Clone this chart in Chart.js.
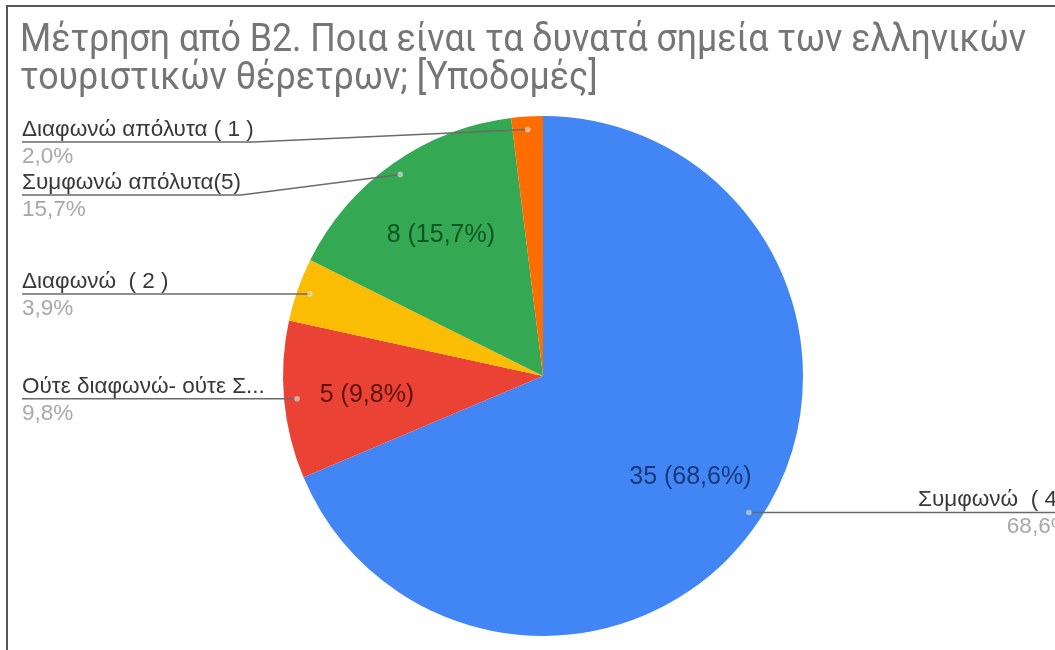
<!DOCTYPE html>
<html>
<head>
<meta charset="utf-8">
<script src="https://cdn.jsdelivr.net/npm/chart.js@4.4.0/dist/chart.umd.min.js"></script>
<style>
  html, body { margin: 0; padding: 0; background: #fff; overflow: hidden; }
  #wrap { position: relative; width: 1055px; height: 650px; }
</style>
</head>
<body>
<div id="wrap"><canvas id="c" width="1055" height="650"></canvas></div>
<script>
// Chart title (two lines)
const titleLines = [
  'Μέτρηση από Β2. Ποια είναι τα δυνατά σημεία των ελληνικών',
  'τουριστικών θέρετρων; [Υποδομές]'
];

// Answer categories, in drawing order (clockwise from 12 o'clock)
const categories = [
  'Συμφωνώ  ( 4 )',
  'Ούτε διαφωνώ- ούτε Σ...',
  'Διαφωνώ  ( 2 )',
  'Συμφωνώ απόλυτα(5)',
  'Διαφωνώ απόλυτα ( 1 )'
];

// Number of responses per category
const counts = [35, 5, 2, 8, 1];

// Slice fills and the darker tones used for the in-slice value text
const sliceColors = ['#4285f4', '#ea4335', '#fbbc04', '#34a853', '#ff6d01'];
const valueTextColors = ['#17397a', '#5e1210', '#6b4f00', '#0c5524', '#7a3300'];

const total = counts.reduce((a, b) => a + b, 0);
const pct = v => (v / total * 100).toFixed(1).replace('.', ',') + '%';

const LABEL_FONT = '22.5px "Liberation Sans", Arial, sans-serif';
const VALUE_FONT = '25px "Liberation Sans", Arial, sans-serif';
const TITLE_FONT = '38px Roboto, "Liberation Sans", sans-serif';
const TITLE_SQUEEZE = 0.94;

const decorations = {
  id: 'decorations',
  beforeDraw(chart) {
    const ctx = chart.ctx;
    ctx.save();
    ctx.fillStyle = '#ffffff';
    ctx.fillRect(0, 0, chart.width, chart.height);
    // frame edges
    ctx.strokeStyle = '#555555';
    ctx.lineWidth = 2;
    ctx.beginPath();
    ctx.moveTo(7, chart.height);
    ctx.lineTo(7, 6);
    ctx.lineTo(chart.width, 6);
    ctx.stroke();
    ctx.restore();
  },
  afterDatasetsDraw(chart) {
    const ctx = chart.ctx;
    const arcs = chart.getDatasetMeta(0).data;
    const items = arcs.map((arc, i) => {
      const p = arc.getProps(['x', 'y', 'startAngle', 'endAngle', 'outerRadius'], true);
      const mid = (p.startAngle + p.endAngle) / 2;
      const dr = p.outerRadius * 0.95;
      return {
        i, p, mid,
        dotX: p.x + Math.cos(mid) * dr,
        dotY: p.y + Math.sin(mid) * dr,
        left: Math.cos(mid) < 0
      };
    });

    // in-slice value labels
    ctx.save();
    ctx.font = VALUE_FONT;
    ctx.textAlign = 'center';
    ctx.textBaseline = 'middle';
    items.forEach(it => {
      if (counts[it.i] / total < 0.05) return;
      const r = it.p.outerRadius * 0.68;
      ctx.fillStyle = valueTextColors[it.i];
      ctx.fillText(counts[it.i] + ' (' + pct(counts[it.i]) + ')',
        it.p.x + Math.cos(it.mid) * r, it.p.y + Math.sin(it.mid) * r + 3);
    });
    ctx.restore();

    // outside labels with leader lines
    ctx.save();
    ctx.font = LABEL_FONT;
    ctx.lineWidth = 1.5;
    ctx.strokeStyle = '#6a6a6a';
    const leftItems = items.filter(it => it.left).sort((a, b) => a.dotY - b.dotY);
    const rightItems = items.filter(it => !it.left).sort((a, b) => a.dotY - b.dotY);

    let prev = -Infinity;
    leftItems.forEach(it => {
      const uy = Math.max(it.dotY, 142, prev + 53);
      prev = uy;
      const tx = 22;
      const w = Math.max(ctx.measureText(categories[it.i]).width, ctx.measureText(pct(counts[it.i])).width);
      ctx.beginPath();
      ctx.moveTo(tx, uy);
      ctx.lineTo(tx + w, uy);
      ctx.lineTo(it.dotX, it.dotY);
      ctx.stroke();
      ctx.textAlign = 'left';
      ctx.textBaseline = 'alphabetic';
      ctx.fillStyle = '#383838';
      ctx.fillText(categories[it.i], tx, uy - 6);
      ctx.fillStyle = '#a8a8a8';
      ctx.fillText(pct(counts[it.i]), tx, uy + 21);
    });

    prev = -Infinity;
    rightItems.forEach(it => {
      const uy = Math.max(it.dotY, prev + 53);
      prev = uy;
      const tx = 918;
      const w = ctx.measureText(categories[it.i]).width;
      ctx.beginPath();
      ctx.moveTo(it.dotX, it.dotY);
      ctx.lineTo(tx, uy);
      ctx.lineTo(tx + w, uy);
      ctx.stroke();
      ctx.textBaseline = 'alphabetic';
      ctx.textAlign = 'left';
      ctx.fillStyle = '#383838';
      ctx.fillText(categories[it.i], tx, uy - 6);
      ctx.textAlign = 'right';
      ctx.fillStyle = '#a8a8a8';
      ctx.fillText(pct(counts[it.i]), tx + w, uy + 21);
    });

    // anchor dots on the slices
    items.forEach(it => {
      ctx.beginPath();
      ctx.arc(it.dotX, it.dotY, 2.8, 0, Math.PI * 2);
      ctx.fillStyle = 'rgba(225,225,225,0.65)';
      ctx.fill();
    });
    ctx.restore();
  },
  afterDraw(chart) {
    const ctx = chart.ctx;
    ctx.save();
    ctx.font = TITLE_FONT;
    ctx.fillStyle = '#757575';
    ctx.textAlign = 'left';
    ctx.textBaseline = 'alphabetic';
    ctx.translate(20, 0);
    ctx.scale(TITLE_SQUEEZE, 1);
    ctx.fillText(titleLines[0], 0, 51);
    ctx.fillText(titleLines[1], 0, 89);
    ctx.restore();
  }
};

new Chart(document.getElementById('c'), {
  type: 'pie',
  data: {
    labels: categories,
    datasets: [{
      data: counts,
      backgroundColor: sliceColors,
      borderWidth: 0,
      hoverOffset: 0
    }]
  },
  options: {
    responsive: false,
    animation: false,
    events: [],
    layout: { padding: { left: 283, right: 252, top: 116, bottom: 14 } },
    plugins: {
      legend: { display: false },
      tooltip: { enabled: false },
      title: { display: false }
    }
  },
  plugins: [decorations]
});
</script>
</body>
</html>
